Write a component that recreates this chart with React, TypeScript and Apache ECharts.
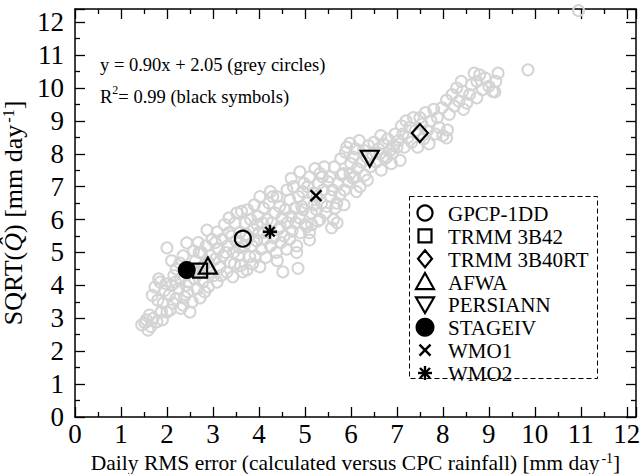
import React, { useEffect, useRef } from "react";
import * as echarts from "echarts";

const FONT = "Liberation Serif";

// Grey circles
const greyPoints: number[][] = [
  [1.45, 2.8], [1.52, 2.86], [1.59, 2.64], [1.55, 2.95], [1.65, 2.75], [1.7, 3.0], [1.78, 2.89], [1.62, 3.1],
  [1.74, 3.95], [1.85, 4.1], [1.68, 3.7], [1.8, 3.55], [1.92, 3.46], [1.88, 3.2], [1.95, 3.85], [1.82, 4.2],
  [1.98, 4.05], [2.0, 3.19], [1.9, 2.95],
  [2.0, 5.14], [2.07, 3.25], [2.13, 3.46], [2.05, 3.7], [2.1, 4.0], [2.15, 4.3], [2.2, 3.6], [2.25, 3.9],
  [2.3, 4.2], [2.28, 4.68], [2.35, 3.4], [2.4, 4.45], [2.43, 5.29], [2.45, 3.8], [2.5, 3.19], [2.2, 4.5],
  [2.1, 4.75], [2.35, 4.9], [2.48, 4.1], [2.38, 3.65], [2.18, 4.1], [2.3, 3.3], [2.42, 4.0],
  [2.55, 3.5], [2.6, 4.2], [2.62, 4.75], [2.65, 3.9], [2.72, 3.62], [2.7, 4.4], [2.75, 5.0], [2.78, 4.1],
  [2.8, 4.6], [2.85, 5.2], [2.87, 5.68], [2.9, 3.95], [2.92, 4.4], [2.95, 4.9], [2.98, 5.4], [2.58, 5.05],
  [2.68, 5.3], [2.82, 3.8], [2.55, 4.45], [2.9, 4.7], [2.7, 5.0],
  [3.02, 4.3], [3.05, 4.8], [3.09, 4.1], [3.09, 5.62], [3.12, 5.1], [3.15, 4.55], [3.2, 5.4], [3.22, 4.9],
  [3.25, 5.85], [3.3, 4.4], [3.32, 5.2], [3.35, 5.6], [3.38, 4.7], [3.43, 4.26], [3.45, 5.0], [3.48, 5.9],
  [3.5, 5.35], [3.52, 6.2], [3.18, 4.3], [3.28, 5.0], [3.4, 5.5], [3.05, 5.3], [3.35, 6.05], [3.47, 4.65],
  [3.55, 4.9], [3.58, 5.6], [3.6, 4.6], [3.65, 4.41], [3.68, 5.2], [3.7, 5.9], [3.74, 4.47], [3.75, 6.3],
  [3.78, 5.45], [3.8, 4.87], [3.82, 6.0], [3.85, 5.2], [3.88, 5.7], [3.9, 6.45], [3.92, 4.9], [3.95, 5.35],
  [3.98, 6.1], [4.0, 5.6], [3.62, 6.25], [3.72, 5.55], [3.86, 4.65], [3.96, 5.85], [3.58, 5.15],
  [4.02, 4.56], [4.02, 6.7], [4.05, 5.1], [4.08, 5.9], [4.1, 6.35], [4.12, 5.4], [4.15, 4.85], [4.18, 6.0],
  [4.2, 5.65], [4.22, 6.5], [4.25, 5.2], [4.28, 5.9], [4.3, 6.7], [4.32, 5.45], [4.35, 6.2], [4.38, 5.0],
  [4.39, 6.7], [4.42, 5.7], [4.46, 5.78], [4.45, 6.4], [4.48, 5.3], [4.5, 6.05], [4.52, 4.41], [4.1, 5.6],
  [4.25, 6.85], [4.4, 4.75],
  [4.55, 5.5], [4.58, 6.3], [4.61, 6.9], [4.62, 5.9], [4.67, 5.4], [4.67, 6.6], [4.7, 6.1], [4.72, 5.65],
  [4.75, 7.0], [4.78, 6.35], [4.8, 5.9], [4.82, 5.2], [4.82, 5.0], [4.85, 4.52], [4.86, 6.7], [4.88, 6.05],
  [4.89, 7.45], [4.9, 5.6], [4.93, 6.4], [4.96, 6.3], [4.98, 7.1], [5.0, 5.85], [4.6, 5.1], [4.7, 7.25],
  [4.95, 6.85],
  [5.04, 5.78], [5.04, 6.5], [5.06, 7.0], [5.1, 5.6], [5.1, 5.38], [5.1, 7.3], [5.14, 6.2], [5.18, 6.8],
  [5.2, 6.45], [5.22, 7.55], [5.26, 6.7], [5.28, 5.95], [5.3, 7.1], [5.33, 6.0], [5.33, 7.4], [5.36, 6.5],
  [5.4, 6.9], [5.42, 7.6], [5.45, 6.2], [5.48, 6.4], [5.5, 7.15], [5.15, 5.85], [5.38, 7.3], [5.25, 6.3],
  [5.54, 7.3], [5.56, 6.7], [5.6, 6.9], [5.62, 6.0], [5.64, 7.6], [5.66, 6.35], [5.69, 6.5], [5.72, 7.1],
  [5.76, 6.75], [5.78, 7.85], [5.8, 7.35], [5.83, 7.4], [5.86, 6.9], [5.88, 8.05], [5.91, 8.2], [5.94, 7.15],
  [5.98, 7.4], [5.98, 8.32], [6.0, 7.7], [5.58, 5.75], [5.7, 5.9], [5.85, 6.45],
  [6.04, 7.26], [6.05, 7.9], [6.08, 7.3], [6.1, 8.15], [6.14, 7.55], [6.18, 8.4], [6.2, 7.0], [6.24, 7.75],
  [6.28, 8.1], [6.3, 7.35], [6.34, 7.9], [6.38, 8.25], [6.42, 7.6], [6.46, 8.0], [6.5, 8.35], [6.12, 6.85],
  [6.36, 7.2],
  [6.55, 7.75], [6.6, 8.15], [6.63, 8.0], [6.66, 7.5], [6.7, 8.3], [6.74, 7.85], [6.78, 7.9], [6.8, 8.45],
  [6.85, 8.1], [6.88, 7.7], [6.92, 8.25], [6.96, 8.6], [7.0, 8.2], [6.65, 8.55], [6.9, 8.0],
  [7.04, 8.4], [7.07, 7.8], [7.1, 8.85], [7.13, 8.6], [7.16, 8.2], [7.2, 9.0], [7.24, 8.5], [7.28, 8.8],
  [7.32, 8.35], [7.36, 9.1], [7.4, 8.7], [7.45, 8.2], [7.5, 9.1], [7.48, 8.6],
  [7.54, 8.9], [7.58, 8.45], [7.62, 9.25], [7.66, 8.7], [7.7, 8.3], [7.74, 9.0], [7.8, 9.35], [7.84, 8.6],
  [7.88, 9.1], [7.92, 8.8], [7.98, 9.4], [8.0, 8.55],
  [8.08, 9.63], [8.08, 8.48], [8.1, 8.72], [8.14, 9.2], [8.2, 9.8], [8.25, 9.45], [8.3, 10.0], [8.35, 9.6],
  [8.43, 9.9], [8.45, 9.35], [8.52, 9.54], [8.4, 10.2],
  [8.58, 9.8], [8.62, 10.1], [8.74, 10.2], [8.74, 9.7], [8.8, 10.4], [8.86, 9.95], [8.92, 10.3], [9.0, 10.05],
  [9.08, 9.9], [9.13, 9.88], [9.2, 10.45], [9.15, 10.2], [8.68, 10.45],
  [9.85, 10.55], [10.95, 12.35],
];

// Black symbols
const productNames = ["GPCP-1DD", "TRMM 3B42", "TRMM 3B40RT", "AFWA", "PERSIANN", "STAGEIV", "WMO1", "WMO2"];
const productX = [3.65, 2.72, 7.5, 2.89, 6.41, 2.43, 5.24, 4.24];
const productY = [5.42, 4.45, 8.63, 4.6, 7.85, 4.47, 6.73, 5.63];

const xMax = 12.2;
const yMax = 12.4;

const SYM: Record<string, { symbol: string; size: any; filled: boolean; bw: number }> = {
  "GPCP-1DD": { symbol: "circle", size: 16, filled: false, bw: 2.2 },
  "TRMM 3B42": { symbol: "path://M0,0L10,0L10,10L0,10Z", size: 14, filled: false, bw: 2.2 },
  "TRMM 3B40RT": { symbol: "path://M5,0L10,6L5,12L0,6Z", size: [16, 18], filled: false, bw: 2.2 },
  AFWA: { symbol: "path://M5,0L10,9L0,9Z", size: [18, 16], filled: false, bw: 2.2 },
  PERSIANN: { symbol: "path://M0,0L10,0L5,9Z", size: [18, 16], filled: false, bw: 2.2 },
  STAGEIV: { symbol: "circle", size: 18, filled: true, bw: 0 },
  WMO1: { symbol: "path://M0,0L10,10M10,0L0,10", size: 11, filled: false, bw: 2.4 },
  WMO2: { symbol: "path://M5,0L5,10M0,5L10,5M1.6,1.6L8.4,8.4M8.4,1.6L1.6,8.4", size: 14, filled: false, bw: 2.4 },
};

function legendIcon(name: string, cx: number, cy: number): any {
  const st = { fill: "none", stroke: "#000", lineWidth: 2.2 };
  switch (name) {
    case "GPCP-1DD":
      return { type: "circle", shape: { cx, cy, r: 7.5 }, style: st };
    case "TRMM 3B42":
      return { type: "rect", shape: { x: cx - 6.5, y: cy - 6.5, width: 13, height: 13 }, style: st };
    case "TRMM 3B40RT":
      return { type: "polygon", shape: { points: [[cx, cy - 8.5], [cx + 7, cy], [cx, cy + 8.5], [cx - 7, cy]] }, style: st };
    case "AFWA":
      return { type: "polygon", shape: { points: [[cx, cy - 8.5], [cx + 9, cy + 7.5], [cx - 9, cy + 7.5]] }, style: st };
    case "PERSIANN":
      return { type: "polygon", shape: { points: [[cx - 9, cy - 7], [cx + 9, cy - 7], [cx, cy + 8.5]] }, style: st };
    case "STAGEIV":
      return { type: "circle", shape: { cx, cy, r: 9.5 }, style: { fill: "#000" } };
    case "WMO1": {
      const d = 5.5;
      return {
        type: "group",
        children: [
          { type: "line", shape: { x1: cx - d, y1: cy - d, x2: cx + d, y2: cy + d }, style: { stroke: "#000", lineWidth: 2.4 } },
          { type: "line", shape: { x1: cx + d, y1: cy - d, x2: cx - d, y2: cy + d }, style: { stroke: "#000", lineWidth: 2.4 } },
        ],
      };
    }
    default: {
      const r = 7, q = 5;
      const ls = { stroke: "#000", lineWidth: 2.4 };
      return {
        type: "group",
        children: [
          { type: "line", shape: { x1: cx, y1: cy - r, x2: cx, y2: cy + r }, style: ls },
          { type: "line", shape: { x1: cx - r, y1: cy, x2: cx + r, y2: cy }, style: ls },
          { type: "line", shape: { x1: cx - q, y1: cy - q, x2: cx + q, y2: cy + q }, style: ls },
          { type: "line", shape: { x1: cx + q, y1: cy - q, x2: cx - q, y2: cy + q }, style: ls },
        ],
      };
    }
  }
}

export default function App() {
  const ref = useRef<HTMLDivElement>(null);
  useEffect(() => {
    document.body.style.margin = "0";
    const chart = echarts.init(ref.current!, null, { renderer: "svg" });

    const axisCommon = {
      type: "value" as const,
      interval: 1,
      axisLine: { show: true, onZero: false, lineStyle: { color: "#000", width: 1.5 } },
      axisTick: { show: true, inside: true, length: 10, lineStyle: { color: "#000", width: 1.3 } },
      minorTick: { show: true, splitNumber: 2, length: 5, lineStyle: { color: "#000", width: 1.3 } },
      splitLine: { show: false },
      minorSplitLine: { show: false },
    };

    const blackSeries = productNames.map((n, i) => {
      const s = SYM[n];
      return {
        name: n,
        type: "scatter",
        xAxisIndex: 0,
        yAxisIndex: 0,
        symbol: s.symbol,
        symbolSize: s.size,
        z: 5,
        silent: true,
        itemStyle: {
          color: s.filled ? "#000" : "rgba(0,0,0,0)",
          borderColor: "#000",
          borderWidth: s.bw,
          opacity: 1,
        },
        data: [[productX[i], productY[i]]],
      };
    });

    const legendRowY0 = 213;
    const legendRowStep = 22.86;
    const legendGraphics: any[] = [];
    productNames.forEach((n, i) => {
      const cy = legendRowY0 + i * legendRowStep;
      legendGraphics.push({ ...legendIcon(n, 425, cy), z: 11 });
      legendGraphics.push({
        type: "text",
        z: 11,
        style: {
          text: n,
          x: 448,
          y: cy + 1,
          verticalAlign: "middle",
          align: "left",
          fontFamily: FONT,
          fontSize: 21,
          fill: "#000",
        },
      });
    });

    chart.setOption({
      animation: false,
      grid: { left: 75, right: 4, top: 9, bottom: 57, containLabel: false, outerBoundsMode: "none" },
      xAxis: [
        {
          ...axisCommon,
          min: 0,
          max: xMax,
          position: "bottom",
          axisLabel: { color: "#000", fontFamily: FONT, fontSize: 27, margin: 3 },
          name: "{n|Daily RMS error (calculated versus CPC rainfall) [mm day}{s|-1}{n|]}",
          nameLocation: "middle",
          nameGap: 30,
          nameTextStyle: {
            rich: {
              n: { fontFamily: FONT, fontSize: 21.5, color: "#000", lineHeight: 22 },
              s: { fontFamily: FONT, fontSize: 14, color: "#000", verticalAlign: "top", lineHeight: 12, padding: [0, 0, 0, 2] },
            },
          },
        },
        {
          ...axisCommon,
          min: 0,
          max: xMax,
          position: "top",
          axisLabel: { show: false },
        },
      ],
      yAxis: [
        {
          ...axisCommon,
          min: 0,
          max: yMax,
          position: "left",
          axisLabel: { color: "#000", fontFamily: FONT, fontSize: 27, margin: 11 },
          name: "{n|SQRT(}{q|Q\u0302}{n|) [mm day}{s|-1}{n|]}",
          nameLocation: "middle",
          nameRotate: 90,
          nameGap: 30,
          nameTextStyle: {
            rich: {
              n: { fontFamily: FONT, fontSize: 26, color: "#000", lineHeight: 26 },
              q: { fontFamily: FONT, fontSize: 26, fontStyle: "italic", color: "#000", lineHeight: 26 },
              s: { fontFamily: FONT, fontSize: 16, color: "#000", verticalAlign: "top", lineHeight: 12, padding: [0, 0, 0, 2] },
            },
          },
        },
        {
          ...axisCommon,
          min: 0,
          max: yMax,
          position: "right",
          axisLabel: { show: false },
        },
      ],
      graphic: [
        {
          type: "rect",
          shape: { x: 409.5, y: 196.5, width: 188, height: 182 },
          style: { fill: "none", stroke: "#000", lineWidth: 1, lineDash: [5, 3] },
          z: 10,
        },
        ...legendGraphics,
        {
          type: "text",
          x: 100,
          y: 55,
          style: { text: "y = 0.90x + 2.05 (grey circles)", fontFamily: FONT, fontSize: 18.5, fill: "#000" },
          z: 10,
        },
        {
          type: "text",
          x: 100,
          y: 84,
          style: {
            text: "{r|R}{s|2}{r|= 0.99 (black symbols)}",
            rich: {
              r: { fontFamily: FONT, fontSize: 18.5, fill: "#000", lineHeight: 26 } as any,
              s: { fontFamily: FONT, fontSize: 12, fill: "#000", verticalAlign: "top", lineHeight: 12 } as any,
            },
          },
          z: 10,
        },
      ],
      series: [
        {
          name: "grey",
          type: "scatter",
          xAxisIndex: 0,
          yAxisIndex: 0,
          symbol: "circle",
          symbolSize: 11,
          silent: true,
          z: 2,
          itemStyle: { color: "rgba(0,0,0,0)", borderColor: "#d4d4d4", borderWidth: 2, opacity: 1 },
          data: greyPoints,
        },
        ...blackSeries,
      ],
    });
    return () => chart.dispose();
  }, []);
  return <div ref={ref} style={{ width: 640, height: 474 }} />;
}
